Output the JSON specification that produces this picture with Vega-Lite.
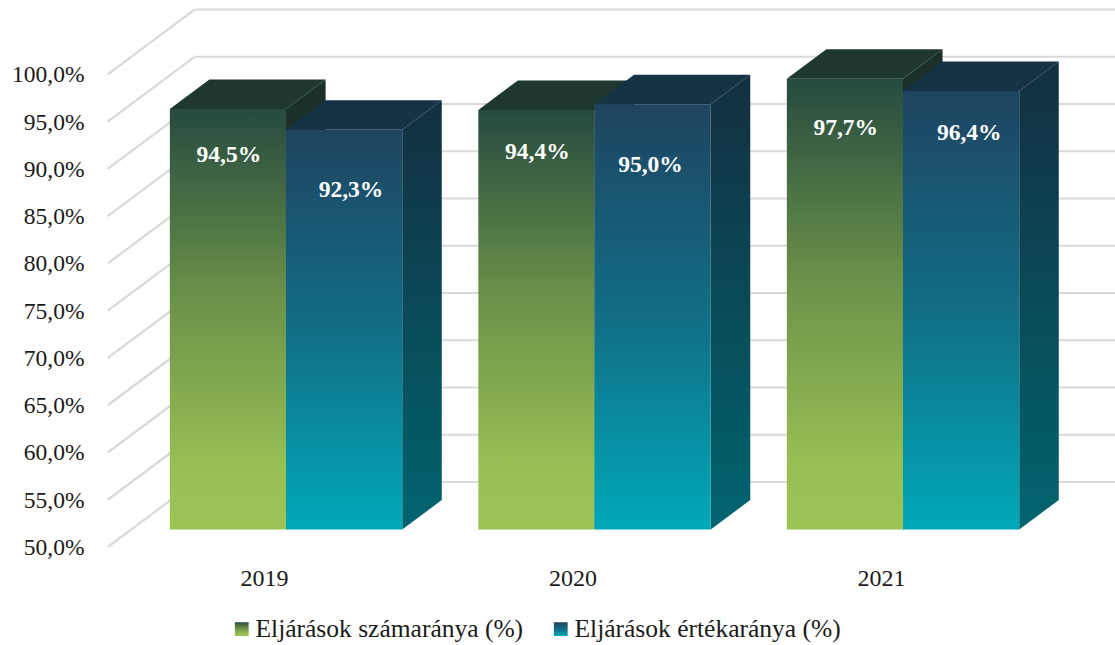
{"$schema":"https://vega.github.io/schema/vega-lite/v6.json","width":1025,"height":565,"autosize":"none","padding":{"left":90,"top":0,"right":0,"bottom":80},"background":"white","config":{"view":{"stroke":null},"font":"Liberation Serif"},
"datasets":{
"grid":[
{"k":50,"x":2018.4935,"x2":2018.776,"y":48.148,"y2":55.026},{"k":55,"x":2018.4935,"x2":2018.776,"y":53.148,"y2":60.026},{"k":60,"x":2018.4935,"x2":2018.776,"y":58.148,"y2":65.026},{"k":65,"x":2018.4935,"x2":2018.776,"y":63.148,"y2":70.026},{"k":70,"x":2018.4935,"x2":2018.776,"y":68.148,"y2":75.026},{"k":75,"x":2018.4935,"x2":2018.776,"y":73.148,"y2":80.026},{"k":80,"x":2018.4935,"x2":2018.776,"y":78.148,"y2":85.026},{"k":85,"x":2018.4935,"x2":2018.776,"y":83.148,"y2":90.026},{"k":90,"x":2018.4935,"x2":2018.776,"y":88.148,"y2":95.026},{"k":95,"x":2018.4935,"x2":2018.776,"y":93.148,"y2":100.026},{"k":100,"x":2018.4935,"x2":2018.776,"y":98.148,"y2":105.026},
{"k":50,"x":2018.776,"x2":2021.7586,"y":55.026,"y2":55.026},{"k":55,"x":2018.776,"x2":2021.7586,"y":60.026,"y2":60.026},{"k":60,"x":2018.776,"x2":2021.7586,"y":65.026,"y2":65.026},{"k":65,"x":2018.776,"x2":2021.7586,"y":70.026,"y2":70.026},{"k":70,"x":2018.776,"x2":2021.7586,"y":75.026,"y2":75.026},{"k":75,"x":2018.776,"x2":2021.7586,"y":80.026,"y2":80.026},{"k":80,"x":2018.776,"x2":2021.7586,"y":85.026,"y2":85.026},{"k":85,"x":2018.776,"x2":2021.7586,"y":90.026,"y2":90.026},{"k":90,"x":2018.776,"x2":2021.7586,"y":95.026,"y2":95.026},{"k":95,"x":2018.776,"x2":2021.7586,"y":100.026,"y2":100.026},{"k":100,"x":2018.776,"x2":2021.7586,"y":105.026,"y2":105.026}],
"fronts":[
{"year":2019,"series":"Eljárások számaránya (%)","x":2018.6948,"x2":2019.0714,"y":94.5,"y2":50},
{"year":2019,"series":"Eljárások értékaránya (%)","x":2019.0714,"x2":2019.4481,"y":92.3,"y2":50},
{"year":2020,"series":"Eljárások számaránya (%)","x":2019.6948,"x2":2020.0714,"y":94.4,"y2":50},
{"year":2020,"series":"Eljárások értékaránya (%)","x":2020.0714,"x2":2020.4481,"y":95.0,"y2":50},
{"year":2021,"series":"Eljárások számaránya (%)","x":2020.6948,"x2":2021.0714,"y":97.7,"y2":50},
{"year":2021,"series":"Eljárások értékaránya (%)","x":2021.0714,"x2":2021.4481,"y":96.4,"y2":50}],
"faces":[
{"year":2019,"s":"a","face":"side","x":2019.0714,"y":94.5,"y2":50},{"year":2019,"s":"a","face":"side","x":2019.1997,"y":97.62,"y2":53.12},
{"year":2020,"s":"a","face":"side","x":2020.0714,"y":94.4,"y2":50},{"year":2020,"s":"a","face":"side","x":2020.1997,"y":97.52,"y2":53.12},
{"year":2021,"s":"a","face":"side","x":2021.0714,"y":97.7,"y2":50},{"year":2021,"s":"a","face":"side","x":2021.1997,"y":100.82,"y2":53.12},
{"year":2019,"s":"b","face":"side","x":2019.4481,"y":92.3,"y2":50},{"year":2019,"s":"b","face":"side","x":2019.5763,"y":95.42,"y2":53.12},
{"year":2020,"s":"b","face":"side","x":2020.4481,"y":95.0,"y2":50},{"year":2020,"s":"b","face":"side","x":2020.5763,"y":98.12,"y2":53.12},
{"year":2021,"s":"b","face":"side","x":2021.4481,"y":96.4,"y2":50},{"year":2021,"s":"b","face":"side","x":2021.5763,"y":99.52,"y2":53.12},
{"year":2019,"s":"a","face":"top","x":2018.6948,"y":94.5,"y2":94.5},{"year":2019,"s":"a","face":"top","x":2018.8230,"y":97.62,"y2":94.5},{"year":2019,"s":"a","face":"top","x":2019.0714,"y":97.62,"y2":94.5},{"year":2019,"s":"a","face":"top","x":2019.1997,"y":97.62,"y2":97.62},
{"year":2020,"s":"a","face":"top","x":2019.6948,"y":94.4,"y2":94.4},{"year":2020,"s":"a","face":"top","x":2019.8230,"y":97.52,"y2":94.4},{"year":2020,"s":"a","face":"top","x":2020.0714,"y":97.52,"y2":94.4},{"year":2020,"s":"a","face":"top","x":2020.1997,"y":97.52,"y2":97.52},
{"year":2021,"s":"a","face":"top","x":2020.6948,"y":97.7,"y2":97.7},{"year":2021,"s":"a","face":"top","x":2020.8230,"y":100.82,"y2":97.7},{"year":2021,"s":"a","face":"top","x":2021.0714,"y":100.82,"y2":97.7},{"year":2021,"s":"a","face":"top","x":2021.1997,"y":100.82,"y2":100.82},
{"year":2019,"s":"b","face":"top","x":2019.0714,"y":92.3,"y2":92.3},{"year":2019,"s":"b","face":"top","x":2019.1997,"y":95.42,"y2":92.3},{"year":2019,"s":"b","face":"top","x":2019.4481,"y":95.42,"y2":92.3},{"year":2019,"s":"b","face":"top","x":2019.5763,"y":95.42,"y2":95.42},
{"year":2020,"s":"b","face":"top","x":2020.0714,"y":95.0,"y2":95.0},{"year":2020,"s":"b","face":"top","x":2020.1997,"y":98.12,"y2":95.0},{"year":2020,"s":"b","face":"top","x":2020.4481,"y":98.12,"y2":95.0},{"year":2020,"s":"b","face":"top","x":2020.5763,"y":98.12,"y2":98.12},
{"year":2021,"s":"b","face":"top","x":2021.0714,"y":96.4,"y2":96.4},{"year":2021,"s":"b","face":"top","x":2021.1997,"y":99.52,"y2":96.4},{"year":2021,"s":"b","face":"top","x":2021.4481,"y":99.52,"y2":96.4},{"year":2021,"s":"b","face":"top","x":2021.5763,"y":99.52,"y2":99.52}],
"labels":[
{"label":"94,5%","x":2018.886,"y":89.63},{"label":"92,3%","x":2019.282,"y":85.93},
{"label":"94,4%","x":2019.886,"y":89.95},{"label":"95,0%","x":2020.253,"y":88.57},
{"label":"97,7%","x":2020.886,"y":92.49},{"label":"96,4%","x":2021.286,"y":91.96}]},
"data":{"name":"fronts"},
"encoding":{
"x":{"field":"x","type":"quantitative","title":null,"scale":{"domain":[2018.436,2021.7586],"nice":false,"zero":false},"axis":{"values":[2019,2020,2021],"format":"d","domain":false,"ticks":false,"grid":false,"labelFontSize":24,"labelColor":"#1a1a1a","labelPadding":1,"labelFlush":false}},
"y":{"field":"y","type":"quantitative","title":null,"scale":{"domain":[46.243,106.03],"nice":false,"zero":false},"axis":{"values":[50,55,60,65,70,75,80,85,90,95,100],"labelExpr":"replace(format(datum.value,'.1f'),'.',',')+'%'","domain":false,"ticks":false,"grid":false,"labelFontSize":23.5,"labelColor":"#1a1a1a","labelPadding":6,"labelOffset":18}}},
"layer":[
{"data":{"name":"grid"},"mark":{"type":"rule","color":"#d9d9d9","strokeWidth":2.2},"encoding":{"x2":{"field":"x2"},"y2":{"field":"y2"},"detail":{"field":"k"}}},
{"data":{"name":"faces"},"transform":[{"filter":"datum.s=='a'&&datum.face=='side'"}],"mark":{"type":"area","orient":"vertical","fill":"#1a3029"},"encoding":{"y2":{"field":"y2"},"detail":{"field":"year"}}},
{"data":{"name":"faces"},"transform":[{"filter":"datum.s=='a'&&datum.face=='top'"}],"mark":{"type":"area","orient":"vertical","fill":"#1e372f"},"encoding":{"y2":{"field":"y2"},"detail":{"field":"year"}}},
{"transform":[{"filter":"datum.series=='Eljárások számaránya (%)'"}],"mark":{"type":"rect"},"encoding":{"x2":{"field":"x2"},"y2":{"field":"y2"},
"fill":{"field":"series","type":"nominal","scale":{"domain":["Eljárások számaránya (%)","Eljárások értékaránya (%)"],"range":[{"expr":"{gradient:'linear',x1:0,y1:0,x2:0,y2:1,stops:[{offset:0,color:'#264a3f'},{offset:0.45,color:'#6b9249'},{offset:0.85,color:'#97bf54'},{offset:1,color:'#9cc455'}]}"},{"expr":"{gradient:'linear',x1:0,y1:0,x2:0,y2:1,stops:[{offset:0,color:'#1f4460'},{offset:0.5,color:'#116e86'},{offset:1,color:'#00a9b8'}]}"}]},
"legend":{"title":null,"orient":"none","legendX":139,"legendY":616,"direction":"horizontal","columns":2,"columnPadding":24,"symbolType":"square","symbolSize":190,"symbolStrokeWidth":0,"labelFontSize":25.5,"labelColor":"#1a1a1a","labelOffset":1,"labelLimit":400}}}},
{"data":{"name":"faces"},"transform":[{"filter":"datum.s=='b'&&datum.face=='side'"}],"mark":{"type":"area","orient":"vertical","fill":{"gradient":"linear","x1":0,"y1":0,"x2":0,"y2":1,"stops":[{"offset":0,"color":"#132f40"},{"offset":1,"color":"#006570"}]}},"encoding":{"y2":{"field":"y2"},"detail":{"field":"year"}}},
{"data":{"name":"faces"},"transform":[{"filter":"datum.s=='b'&&datum.face=='top'"}],"mark":{"type":"area","orient":"vertical","fill":"#163245"},"encoding":{"y2":{"field":"y2"},"detail":{"field":"year"}}},
{"transform":[{"filter":"datum.series=='Eljárások értékaránya (%)'"}],"mark":{"type":"rect"},"encoding":{"x2":{"field":"x2"},"y2":{"field":"y2"},
"fill":{"field":"series","type":"nominal","scale":{"domain":["Eljárások számaránya (%)","Eljárások értékaránya (%)"],"range":[{"expr":"{gradient:'linear',x1:0,y1:0,x2:0,y2:1,stops:[{offset:0,color:'#264a3f'},{offset:0.45,color:'#6b9249'},{offset:0.85,color:'#97bf54'},{offset:1,color:'#9cc455'}]}"},{"expr":"{gradient:'linear',x1:0,y1:0,x2:0,y2:1,stops:[{offset:0,color:'#1f4460'},{offset:0.5,color:'#116e86'},{offset:1,color:'#00a9b8'}]}"}]},
"legend":{"title":null,"orient":"none","legendX":139,"legendY":616,"direction":"horizontal","columns":2,"columnPadding":24,"symbolType":"square","symbolSize":190,"symbolStrokeWidth":0,"labelFontSize":25.5,"labelColor":"#1a1a1a","labelOffset":1,"labelLimit":400}}}},
{"data":{"name":"labels"},"mark":{"type":"text","color":"white","fontWeight":"bold","fontSize":23.5,"align":"center","baseline":"middle"},"encoding":{"text":{"field":"label"}}}
]}
